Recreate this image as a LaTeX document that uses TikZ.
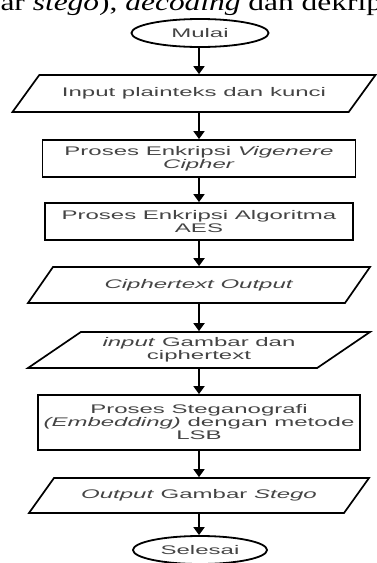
\documentclass[tikz,border=0pt]{standalone}
\usepackage{fontspec}
\usepackage{xcolor}
\usetikzlibrary{shapes.geometric,arrows.meta}
\newfontfamily\flowfont[FakeStretch=1.92]{Liberation Sans}
\newfontfamily\pagefont[FakeStretch=1.31]{Liberation Serif}
\definecolor{flowtext}{HTML}{444444}

\begin{document}
\begin{tikzpicture}[x=1pt,y=-1pt,font=\flowfont\fontsize{12.5}{13}\selectfont,
  terminal/.style={draw,ellipse,line width=1.8pt,inner sep=0pt,minimum height=28pt,text=flowtext},
  process/.style={draw,rectangle,line width=1.8pt,inner sep=0pt,align=center,text=flowtext},
  data/.style={draw,trapezium,trapezium left angle=25,trapezium right angle=155,
    trapezium stretches body,line width=1.7pt,inner sep=0pt,align=center,text=flowtext},
  flow/.style={-{Triangle[length=8pt,width=11pt]},line width=1.8pt}]
\useasboundingbox (0,0) rectangle (376,563);
% line of running text above the chart
\node[anchor=base west,font=\pagefont\fontsize{24}{26}\selectfont] (runin) at (-3,10)
  {ar \textit{stego}), \textit{decoding} dan dekripsi};
% chart
\node[terminal,minimum width=137pt] (mulai) at (200,33) {Mulai};
\node[data,trapezium left angle=23.5,trapezium right angle=156.5,minimum width=363pt,minimum height=37pt] (plain) at (194,93.5) {Input plainteks dan kunci};
\node[process,minimum width=313pt,minimum height=37pt] (vigenere) at (199,158.5) {Proses Enkripsi \textit{Vigenere}\\\textit{Cipher}};
\node[process,minimum width=308pt,minimum height=37pt] (aes) at (199,221.5) {Proses Enkripsi Algoritma\\AES};
\node[data,minimum width=342pt,minimum height=36pt] (cipher) at (199,285) {\textit{Ciphertext Output}};
\node[data,minimum width=342pt,minimum height=36pt] (gambar) at (199,350) {\textit{input} Gambar dan\\ciphertext};
\node[process,minimum width=322pt,minimum height=55pt] (stegano) at (199,422.5) {Proses Steganografi\\\textit{(Embedding)} dengan metode\\LSB};
\node[data,minimum width=340pt,minimum height=35pt] (stego) at (199,495.5) {\textit{Output} Gambar \textit{Stego}};
\node[terminal,minimum width=134pt] (selesai) at (200,550) {Selesai};
% connectors
\draw[flow] (mulai.south -| vigenere.north) -- (vigenere.north |- plain.north);
\draw[flow] (vigenere.north |- plain.south) -- (vigenere.north);
\draw[flow] (vigenere) -- (aes);
\draw[flow] (aes) -- (cipher);
\draw[flow] (cipher) -- (gambar);
\draw[flow] (gambar) -- (stegano);
\draw[flow] (stegano) -- (stego);
\draw[flow] (stego.south) -- (stego.south |- selesai.north);
\end{tikzpicture}
\end{document}
